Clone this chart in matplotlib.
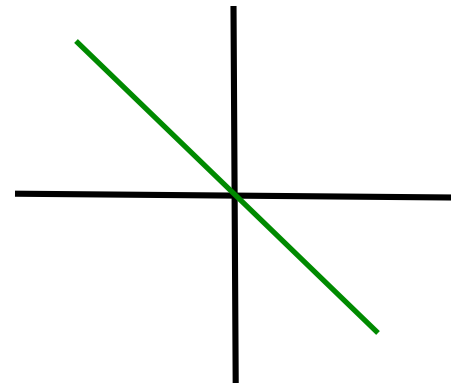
import matplotlib.pyplot as plt

# Line endpoints (x, y), y measured downward from the top
x_axis_x = [15, 452]
x_axis_y = [193.7, 197.5]
y_axis_x = [233.5, 235.7]
y_axis_y = [6, 383]
green_x = [76, 378]
green_y = [41, 333]


def create_chart():
    fig = plt.figure(figsize=(4.52, 3.84), dpi=100)
    ax = fig.add_axes([0, 0, 1, 1])

    ax.plot(x_axis_x, x_axis_y, color='black', lw=4.4, solid_capstyle='butt')
    ax.plot(y_axis_x, y_axis_y, color='black', lw=4.4, solid_capstyle='butt')
    ax.plot(green_x, green_y, color='#008a00', lw=3.8, solid_capstyle='butt')

    ax.set_xlim(0, 452)
    ax.set_ylim(384, 0)
    ax.axis('off')

    fig.savefig('out.png', dpi=100)
    plt.close(fig)


if __name__ == "__main__":
    create_chart()
